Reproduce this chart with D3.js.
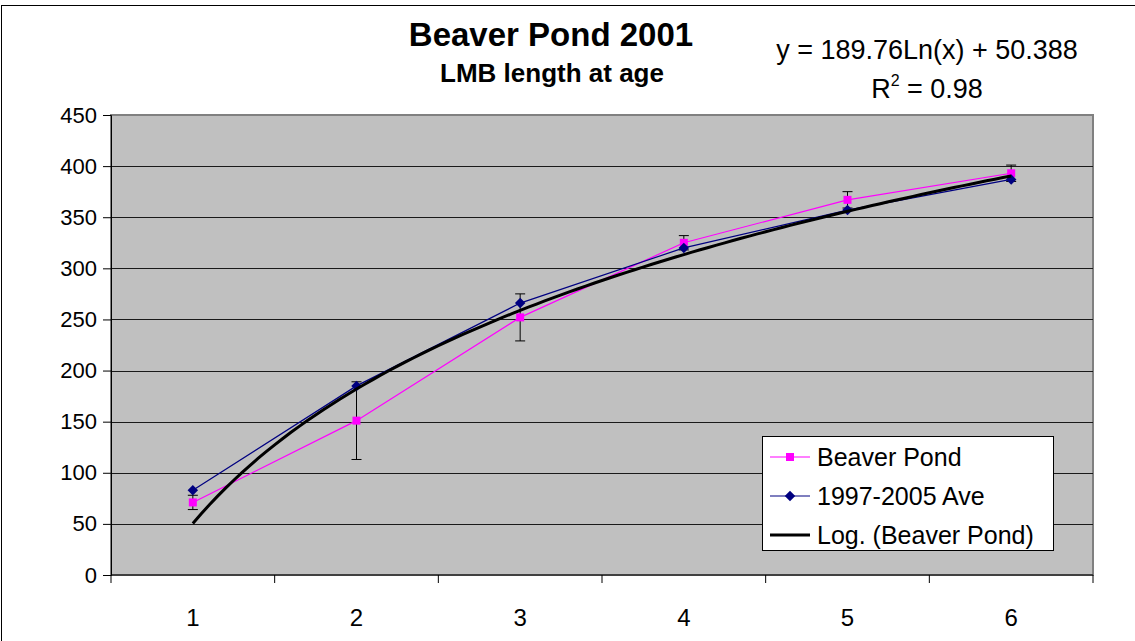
<!DOCTYPE html>
<html>
<head>
<meta charset="utf-8">
<script src="https://cdn.jsdelivr.net/npm/d3@7"></script>
<style>
  body { margin: 0; background: #fff; }
  svg { display: block; font-family: "Liberation Sans", Arial, sans-serif; }
</style>
</head>
<body>
<svg width="1135" height="641"></svg>
<script>
var ages = [1, 2, 3, 4, 5, 6];
var beaverPond = [71, 151, 252, 325, 367, 393];
var beaverErr = [7, 38, 23, 7, 8, 8];
var average = [83, 185, 266, 320, 357, 387];
var yTicks = [0, 50, 100, 150, 200, 250, 300, 350, 400, 450];
var trendSlope = 189.76, trendIntercept = 50.388;

var svg = d3.select("svg"),
    plot = {left: 111, top: 115, right: 1093, bottom: 575};

// outer chart frame
svg.append("rect")
  .attr("x", 1.5).attr("y", 5.5)
  .attr("width", 1140).attr("height", 650)
  .attr("fill", "none").attr("stroke", "#000").attr("stroke-width", 1);

var x = d3.scaleBand()
  .domain(ages)
  .range([plot.left, plot.right]);

var xc = function(d) { return x(d) + x.bandwidth() / 2; };

var y = d3.scaleLinear()
  .domain([0, 450])
  .range([plot.bottom, plot.top]);

// plot background
svg.append("rect")
  .attr("x", plot.left).attr("y", plot.top)
  .attr("width", plot.right - plot.left).attr("height", plot.bottom - plot.top)
  .attr("fill", "#c0c0c0").attr("stroke", "#808080").attr("stroke-width", 2);

// gridlines
svg.append("g")
  .selectAll("line")
  .data(yTicks.filter(function(d) { return d > 0 && d < 450; }))
  .enter().append("line")
  .attr("x1", plot.left).attr("x2", plot.right)
  .attr("y1", function(d) { return Math.round(y(d)) + 0.5; })
  .attr("y2", function(d) { return Math.round(y(d)) + 0.5; })
  .attr("stroke", "#1a1a1a").attr("stroke-width", 1);

// y axis
var yAxis = svg.append("g")
  .attr("transform", "translate(" + plot.left + ",0)")
  .call(d3.axisLeft(y).tickValues(yTicks).tickSize(8).tickPadding(6));
yAxis.attr("font-size", null).attr("font-family", null);
yAxis.select(".domain").attr("stroke", "#000");
yAxis.selectAll("text").attr("font-size", 22).attr("fill", "#000");

// x axis (ticks between categories)
var xAxis = svg.append("g")
  .attr("transform", "translate(0," + plot.bottom + ")");
xAxis.append("line")
  .attr("x1", plot.left).attr("x2", plot.right)
  .attr("stroke", "#000");
xAxis.selectAll(".tk")
  .data(ages.map(function(d) { return x(d); }).concat([plot.right]))
  .enter().append("line")
  .attr("x1", function(d) { return d; }).attr("x2", function(d) { return d; })
  .attr("y1", 0).attr("y2", 8)
  .attr("stroke", "#000");
xAxis.selectAll(".lbl")
  .data(ages)
  .enter().append("text")
  .attr("x", xc).attr("y", 51)
  .attr("text-anchor", "middle")
  .attr("font-size", 24)
  .text(function(d) { return d; });

var line = d3.line()
  .x(function(d, i) { return xc(ages[i]); })
  .y(function(d) { return y(d); });

// Beaver Pond series
svg.append("path")
  .datum(beaverPond)
  .attr("fill", "none").attr("stroke", "#ff00ff").attr("stroke-width", 1.2)
  .attr("d", line);

// error bars
var eb = svg.append("g").attr("stroke", "#000").attr("stroke-width", 1);
ages.forEach(function(a, i) {
  var cx = xc(a), hi = y(beaverPond[i] + beaverErr[i]), lo = y(beaverPond[i] - beaverErr[i]);
  eb.append("line").attr("x1", cx).attr("x2", cx).attr("y1", hi).attr("y2", lo);
  eb.append("line").attr("x1", cx - 5).attr("x2", cx + 5).attr("y1", hi).attr("y2", hi);
  eb.append("line").attr("x1", cx - 5).attr("x2", cx + 5).attr("y1", lo).attr("y2", lo);
});

svg.append("g")
  .selectAll("rect")
  .data(beaverPond)
  .enter().append("rect")
  .attr("x", function(d, i) { return xc(ages[i]) - 4; })
  .attr("y", function(d) { return y(d) - 4; })
  .attr("width", 8).attr("height", 8)
  .attr("fill", "#ff00ff");

// 1997-2005 average
svg.append("path")
  .datum(average)
  .attr("fill", "none").attr("stroke", "#000080").attr("stroke-width", 1.2)
  .attr("d", line);

var diamond = d3.symbol().type(d3.symbolDiamond2).size(70);
svg.append("g")
  .selectAll("path")
  .data(average)
  .enter().append("path")
  .attr("transform", function(d, i) { return "translate(" + xc(ages[i]) + "," + y(d) + ")"; })
  .attr("d", diamond)
  .attr("fill", "#000080");

// logarithmic trendline
var trendX = d3.range(1, 6.001, 0.05);
svg.append("path")
  .datum(trendX)
  .attr("fill", "none").attr("stroke", "#000").attr("stroke-width", 3)
  .attr("d", d3.line()
    .x(function(t) { return xc(1) + (t - 1) * x.step(); })
    .y(function(t) { return y(trendSlope * Math.log(t) + trendIntercept); }));

// titles
svg.append("text")
  .attr("x", 551).attr("y", 46)
  .attr("text-anchor", "middle")
  .attr("font-size", 33).attr("font-weight", "bold")
  .text("Beaver Pond 2001");
svg.append("text")
  .attr("x", 552).attr("y", 82)
  .attr("text-anchor", "middle")
  .attr("font-size", 26).attr("font-weight", "bold")
  .text("LMB length at age");

// trendline equation
svg.append("text")
  .attr("x", 927).attr("y", 59)
  .attr("text-anchor", "middle")
  .attr("font-size", 27)
  .text("y = " + trendSlope + "Ln(x) + " + trendIntercept);
var r2 = svg.append("text")
  .attr("x", 927).attr("y", 98)
  .attr("text-anchor", "middle")
  .attr("font-size", 27);
r2.append("tspan").text("R");
r2.append("tspan").attr("font-size", 16).attr("dy", -12).text("2");
r2.append("tspan").attr("dy", 12).text(" = 0.98");

// legend
var legend = svg.append("g").attr("transform", "translate(762,436)");
legend.append("rect")
  .attr("x", 0.5).attr("y", 0.5).attr("width", 291).attr("height", 114)
  .attr("fill", "#fff").attr("stroke", "#000");
var items = [
  {name: "Beaver Pond", color: "#ff00ff", mark: "square", width: 1.2},
  {name: "1997-2005 Ave", color: "#000080", mark: "diamond", width: 1.2},
  {name: "Log. (Beaver Pond)", color: "#000", mark: null, width: 3}
];
items.forEach(function(it, i) {
  var cy = 21 + i * 39;
  legend.append("line")
    .attr("x1", 8).attr("x2", 48).attr("y1", cy).attr("y2", cy)
    .attr("stroke", it.color).attr("stroke-width", it.width);
  if (it.mark === "square") {
    legend.append("rect").attr("x", 24).attr("y", cy - 4).attr("width", 8).attr("height", 8)
      .attr("fill", it.color);
  } else if (it.mark === "diamond") {
    legend.append("path").attr("transform", "translate(28," + cy + ")")
      .attr("d", diamond).attr("fill", it.color);
  }
  legend.append("text")
    .attr("x", 55).attr("y", cy + 9)
    .attr("font-size", 25)
    .text(it.name);
});
</script>
</body>
</html>
